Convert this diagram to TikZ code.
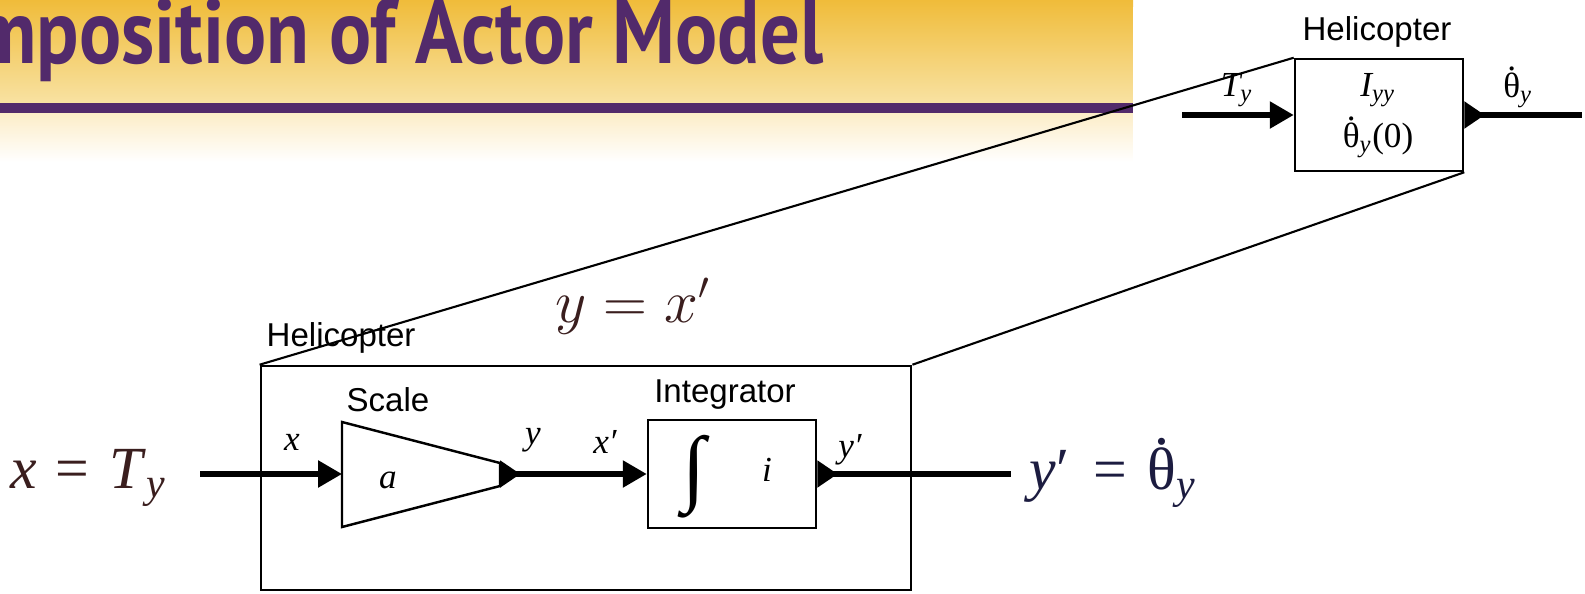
\documentclass[tikz,border=0pt]{standalone}
\usepackage{fontspec}
\setmainfont{Liberation Serif}
\newfontfamily\helv{Liberation Sans}
\newfontfamily\slidefont[FakeStretch=0.86]{PT Sans}
\usetikzlibrary{arrows.meta, positioning}
\definecolor{slidepurple}{RGB}{82,42,107}
\definecolor{bannertop}{RGB}{240,188,58}
\definecolor{bannermid}{RGB}{248,226,162}
\definecolor{bannerlow}{RGB}{252,237,200}
\definecolor{brownink}{RGB}{58,30,30}
\definecolor{navyink}{RGB}{28,28,64}
\newcommand{\thdot}{\hbox{\ooalign{θ\cr\hidewidth\raisebox{0.74em}{.}\hidewidth\cr}}}
\tikzset{
    actorbox/.style={draw, line width=0.7pt, inner sep=0pt},
    portlabel/.style={font=\fontsize{10pt}{12pt}\selectfont\itshape, inner sep=0pt},
    namelabel/.style={font=\helv\fontsize{9.4pt}{11pt}\selectfont, inner sep=0pt},
    bigeq/.style={font=\fontsize{17pt}{20pt}\selectfont, inner sep=0pt},
    wire/.style={line width=1.5pt},
    inport/.style={wire, -{Triangle[length=6.8pt,width=7.4pt]}},
    outport/.style={wire, {Triangle[reversed,length=5.8pt,width=7.4pt]}-},
    bothport/.style={wire, {Triangle[reversed,length=5.8pt,width=7.4pt]}-{Triangle[length=6.8pt,width=7.4pt]}},
    zoomline/.style={line width=0.6pt}
}
\begin{document}
\begin{tikzpicture}[x=0.01cm, y=-0.01cm]
\useasboundingbox (0,0) rectangle (1585,594);
\clip (0,0) rectangle (1585,594);

% slide banner
\shade[top color=bannertop, bottom color=bannermid] (0,0) rectangle (1133,103);
\fill[slidepurple] (0,103) rectangle (1133,113);
\shade[top color=bannerlow, bottom color=white] (0,113) rectangle (1133,162);
\fill[white] (1133,7) rectangle (1585,162);
\node[anchor=base east, inner sep=0pt, text=slidepurple,
      font=\slidefont\bfseries\fontsize{26pt}{26pt}\selectfont] (title) at (824,63) {Composition of Actor Model};

% top actor
\node[actorbox, minimum width=1.68cm, minimum height=1.12cm] (heli) at (1379,115) {};
\node[namelabel] (helilbl) at (1377,32) {Helicopter};
\node[portlabel] (iyy) at (1378,90) {I\textsubscript{yy}};
\node[portlabel] (th0) at (1378,140) {\upshape\thdot\textsubscript{\itshape y}(0)};
\coordinate (tin) at (1182,115);
\coordinate (tout) at (1582,115);
\draw[inport] (tin) -- (heli.west);
\draw[outport] (heli.east) -- (tout);
\node[portlabel] (tylbl) at (1237,90) {T\textsubscript{y}};
\node[portlabel] (thlbl) at (1518,90) {\upshape\thdot\textsubscript{\itshape y}};

% composite actor
\node[actorbox, minimum width=6.5cm, minimum height=2.24cm] (comp) at (586,478) {};
\node[namelabel, anchor=west] (complbl) at (266,338) {Helicopter};

% scale
\draw[line width=0.7pt] (342,422) -- (500,463) -- (500,486) -- (342,527) -- cycle;
\coordinate (scalein) at (342,474);
\coordinate (scaleout) at (500,474);
\node[namelabel] (scalelbl) at (388,400) {Scale};
\node[portlabel] (alpha) at (388,480) {a};

% integrator
\node[actorbox, minimum width=1.68cm, minimum height=1.08cm] (integ) at (732,474) {};
\node[namelabel] (integlbl) at (725,395) {Integrator};
\node[inner sep=0pt, font=\fontsize{24pt}{24pt}\selectfont] (intsign) at (694,477) {∫};
\node[portlabel] (ilbl) at (767,470) {i};

% wires
\coordinate (xin) at (200,474);
\coordinate (yout) at (1011,474);
\draw[inport] (xin) -- (scalein);
\draw[bothport] (scaleout) -- (integ.west);
\draw[outport] (integ.east) -- (yout);
\node[portlabel] (xlbl) at (292,442) {x};
\node[portlabel] (ylbl) at (533,440) {y};
\node[portlabel] (xplbl) at (605,442) {x′};
\node[portlabel] (yplbl) at (850,450) {y′};

% equations
\node[bigeq, anchor=base west, text=brownink] (xeq) at (10,488)
  {\textit{x}\hspace{0.3em}=\hspace{0.35em}\textit{T}\textsubscript{\itshape y}};
\node[bigeq, anchor=base west, text=navyink] (yeq) at (1029,489)
  {\textit{y}′\hspace{0.4em}=\hspace{0.35em}\thdot\textsubscript{\itshape y}};
\node[anchor=base west, inner sep=0pt, text=brownink, font=\fontsize{16pt}{18pt}\selectfont] (deq) at (555,322) {$y = x'$};

% zoom lines
\draw[zoomline] (comp.north west) -- (heli.north west);
\draw[zoomline] (comp.north east) -- (heli.south east);
\end{tikzpicture}
\end{document}
